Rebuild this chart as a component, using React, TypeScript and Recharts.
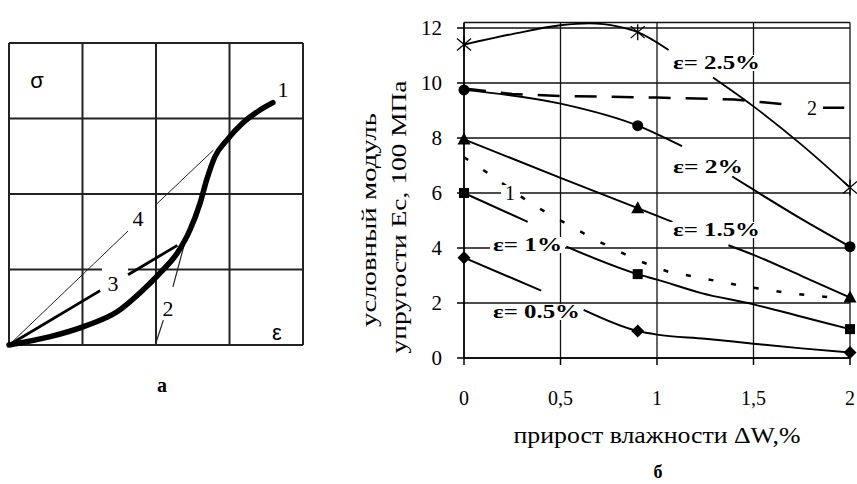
import { LineChart, Line, XAxis, YAxis, CartesianGrid } from "recharts";

type P = [number, number | null];

// ---- panel "а": σ–ε sketch, in grid cells (0..4)
const sketchTicks = [0, 1, 2, 3, 4];
const curve1: P[] = [
  [0, 0], [0.56, 0.11], [1.06, 0.26], [1.47, 0.44], [1.78, 0.69], [2.05, 0.95],
  [2.29, 1.22], [2.46, 1.52], [2.6, 1.88], [2.69, 2.19], [2.8, 2.49], [2.97, 2.72],
  [3.18, 2.94], [3.41, 3.11], [3.59, 3.21],
];
const tangent2: P[] = [[1.99, 0], [2.1, 0.33], [2.17, null], [2.23, 0.77], [2.39, 1.35]];
const chord3: P[] = [[0, 0], [1.24, 0.72], [1.4, null], [1.62, 0.93], [2.29, 1.32]];
const secant4: P[] = [[0, 0], [1.62, 1.51], [1.8, null], [1.99, 1.85], [2.78, 2.58]];

// ---- panel "б": modulus vs moisture gain
const dwTicks = [0, 0.5, 1, 1.5, 2];
const ecTicks = [0, 2, 4, 6, 8, 10, 12];
const ecTop = 12.2;
const markerX = [0, 0.9, 2];

const eps25: P[] = [
  [0, 11.4], [0.25, 11.78], [0.5, 12.1], [0.65, 12.17], [0.8, 12.05], [0.9, 11.85],
  [1.06, 11.2], [1.17, null], [1.29, 10.2], [1.5, 9.15], [1.75, 7.75], [2, 6.2],
];
const eps20: P[] = [
  [0, 9.75], [0.5, 9.25], [0.9, 8.45], [1.13, 7.7], [1.25, null], [1.39, 6.6],
  [1.5, 6.12], [1.75, 5.05], [2, 4.05],
];
const eps15: P[] = [
  [0, 7.95], [0.5, 6.55], [0.9, 5.45], [1.08, 4.95], [1.2, null], [1.37, 4.1],
  [1.5, 3.75], [1.75, 2.98], [2, 2.2],
];
const eps10: P[] = [
  [0, 6.0], [0.33, 4.95], [0.43, null], [0.53, 4.05], [0.9, 3.05], [1, 2.85],
  [1.23, 2.36], [1.5, 1.95], [1.75, 1.5], [2, 1.05],
];
const eps05: P[] = [
  [0, 3.65], [0.4, 2.45], [0.5, null], [0.62, 1.75], [0.9, 0.98], [1, 0.85],
  [1.25, 0.7], [1.5, 0.52], [1.75, 0.35], [2, 0.2],
];
const dashed2: P[] = [
  [0, 9.8], [0.25, 9.6], [0.5, 9.53], [1, 9.47], [1.4, 9.4], [1.55, 9.3], [1.7, 9.2],
  [1.78, null], [1.86, 9.1], [1.97, 9.1],
];
const dotted1: P[] = [
  [0, 7.3], [0.15, 6.6], [0.35, 5.6], [0.5, 5.0], [0.68, 4.3], [0.9, 3.55], [1.06, 3.13],
  [1.2, 2.95], [1.44, 2.62], [1.68, 2.36], [1.93, 2.18],
];

const rows = (pts: P[]) => pts.map(([x, y]) => ({ x, y }));

const SERIF = "Liberation Serif, Times New Roman, serif";
const SANS = "Liberation Sans, Arial, sans-serif";

function markerDot(kind: string) {
  return (props: any) => {
    const { cx, cy, payload, index } = props;
    const k = `${kind}-${index}`;
    if (cx == null || cy == null || payload?.y == null || !markerX.includes(payload.x)) {
      return <g key={k} />;
    }
    if (kind === "star") {
      return (
        <g key={k} stroke="#000" strokeWidth={1.3}>
          <line x1={cx} y1={cy - 8} x2={cx} y2={cy + 8} />
          <line x1={cx - 7} y1={cy - 6} x2={cx + 7} y2={cy + 6} />
          <line x1={cx - 7} y1={cy + 6} x2={cx + 7} y2={cy - 6} />
        </g>
      );
    }
    if (kind === "circle") return <circle key={k} cx={cx} cy={cy} r={5.5} fill="#000" />;
    if (kind === "triangle")
      return <path key={k} d={`M${cx},${cy - 7}L${cx + 6.5},${cy + 5}L${cx - 6.5},${cy + 5}Z`} fill="#000" />;
    if (kind === "square") return <rect key={k} x={cx - 5} y={cy - 5} width={10} height={10} fill="#000" />;
    return <path key={k} d={`M${cx},${cy - 6.5}L${cx + 6.5},${cy}L${cx},${cy + 6.5}L${cx - 6.5},${cy}Z`} fill="#000" />;
  };
}

function SketchPanel() {
  return (
    <LineChart width={320} height={360} margin={{ top: 43, right: 17, bottom: 15, left: 9 }}>
      <XAxis dataKey="x" type="number" domain={[0, 4]} ticks={sketchTicks} hide />
      <YAxis type="number" domain={[0, 4]} ticks={sketchTicks} hide />
      <CartesianGrid stroke="#222" strokeWidth={2} />
      <Line data={rows(secant4)} dataKey="y" type="linear" stroke="#222" strokeWidth={1} dot={false} isAnimationActive={false} />
      <Line data={rows(tangent2)} dataKey="y" type="linear" stroke="#222" strokeWidth={1.2} dot={false} isAnimationActive={false} />
      <Line data={rows(chord3)} dataKey="y" type="linear" stroke="#000" strokeWidth={2.8} dot={false} isAnimationActive={false} />
      <Line data={rows(curve1)} dataKey="y" type="monotone" stroke="#000" strokeWidth={5.5} strokeLinecap="round" dot={false} isAnimationActive={false} />
    </LineChart>
  );
}

function ModulusPanel() {
  const line = (pts: P[], kind: string | null, extra: any = {}) => (
    <Line
      data={rows(pts)}
      dataKey="y"
      type="monotone"
      stroke="#000"
      strokeWidth={2}
      dot={kind ? markerDot(kind) : false}
      activeDot={false}
      isAnimationActive={false}
      {...extra}
    />
  );
  return (
    <LineChart width={517} height={484} margin={{ top: 22.5, right: 7, bottom: 0, left: 0 }}>
      <CartesianGrid stroke="#111" strokeWidth={1.3} />
      <XAxis
        dataKey="x"
        type="number"
        domain={[0, 2]}
        ticks={dwTicks}
        height={126}
        tickSize={7}
        tickMargin={26}
        tickFormatter={(v: number) => String(v).replace(".", ",")}
        tick={{ fontFamily: SERIF, fontSize: 20, fill: "#000" }}
        axisLine={{ stroke: "#000", strokeWidth: 1.5 }}
        tickLine={{ stroke: "#000", strokeWidth: 1.5 }}
      />
      <YAxis
        type="number"
        domain={[0, ecTop]}
        ticks={ecTicks}
        width={124}
        tickSize={7}
        tickMargin={15}
        tick={{ fontFamily: SERIF, fontSize: 21, fill: "#000" }}
        axisLine={{ stroke: "#000", strokeWidth: 1.5 }}
        tickLine={{ stroke: "#000", strokeWidth: 1.5 }}
      />
      {line(dotted1, null, { type: "linear", strokeWidth: 2.5, strokeDasharray: "5 18" })}
      {line(dashed2, null, { type: "linear", strokeWidth: 2.5, strokeDasharray: "22 15" })}
      {line(eps25, "star", { strokeWidth: 1.8 })}
      {line(eps20, "circle")}
      {line(eps15, "triangle")}
      {line(eps10, "square")}
      {line(eps05, "diamond")}
    </LineChart>
  );
}

function EpsLabel({ x, y, w, text }: { x: number; y: number; w: number; text: string }) {
  return (
    <g>
      <rect x={x - 3} y={y - 8} width={w + 6} height={16} fill="#fff" />
      <text x={x} y={y} dominantBaseline="central" fontFamily={SERIF} fontWeight="bold" fontSize={18}
        textLength={w} lengthAdjust="spacingAndGlyphs" fill="#000">
        {text}
      </text>
    </g>
  );
}

export default function App() {
  return (
    <div style={{ position: "absolute", left: 0, top: 0, width: 857, height: 484, background: "#fff", overflow: "hidden" }}>
      <div style={{ position: "absolute", left: 0, top: 0 }}>
        <SketchPanel />
      </div>
      <div style={{ position: "absolute", left: 340, top: 0 }}>
        <ModulusPanel />
      </div>
      <svg width={857} height={484} style={{ position: "absolute", left: 0, top: 0, pointerEvents: "none" }}>
        {/* panel а labels */}
        <text x={37} y={80} textAnchor="middle" dominantBaseline="central" fontFamily={SANS} fontSize={22}>σ</text>
        <text x={283} y={89} textAnchor="middle" dominantBaseline="central" fontFamily={SERIF} fontSize={22}>1</text>
        <text x={138} y={218} textAnchor="middle" dominantBaseline="central" fontFamily={SERIF} fontSize={22}>4</text>
        <rect x={102} y={263} width={26} height={8} fill="#fff" />
        <text x={113} y={283} textAnchor="middle" dominantBaseline="central" fontFamily={SERIF} fontSize={22}>3</text>
        <text x={168} y={308} textAnchor="middle" dominantBaseline="central" fontFamily={SERIF} fontSize={22}>2</text>
        <text x={277} y={332} textAnchor="middle" dominantBaseline="central" fontFamily={SANS} fontSize={22}>ε</text>
        <text x={162} y={385} textAnchor="middle" dominantBaseline="central" fontFamily={SERIF} fontWeight="bold" fontSize={20}>а</text>

        {/* panel б labels */}
        <EpsLabel x={673} y={63} w={87} text="ε= 2.5%" />
        <EpsLabel x={673} y={167} w={70} text="ε= 2%" />
        <EpsLabel x={673} y={230} w={87} text="ε= 1.5%" />
        <EpsLabel x={493} y={245} w={69} text="ε= 1%" />
        <EpsLabel x={493} y={312} w={87} text="ε= 0.5%" />
        <rect x={501} y={185} width={19} height={16} fill="#fff" />
        <text x={510} y={193} textAnchor="middle" dominantBaseline="central" fontFamily={SERIF} fontSize={20}>1</text>
        <text x={812} y={108} textAnchor="middle" dominantBaseline="central" fontFamily={SERIF} fontSize={20}>2</text>

        <text x={368} y={220} transform="rotate(-90 368 220)" textAnchor="middle" dominantBaseline="central"
          fontFamily={SERIF} fontSize={22} textLength={214} lengthAdjust="spacingAndGlyphs">условный модуль</text>
        <text x={398} y={217} transform="rotate(-90 398 217)" textAnchor="middle" dominantBaseline="central"
          fontFamily={SERIF} fontSize={22} textLength={273} lengthAdjust="spacingAndGlyphs">упругости Ес, 100 МПа</text>
        <text x={657} y={435} textAnchor="middle" dominantBaseline="central" fontFamily={SERIF} fontSize={23}
          textLength={287} lengthAdjust="spacingAndGlyphs">прирост влажности ΔW,%</text>
        <text x={658} y={472} textAnchor="middle" dominantBaseline="central" fontFamily={SERIF} fontWeight="bold" fontSize={18}>б</text>
      </svg>
    </div>
  );
}
